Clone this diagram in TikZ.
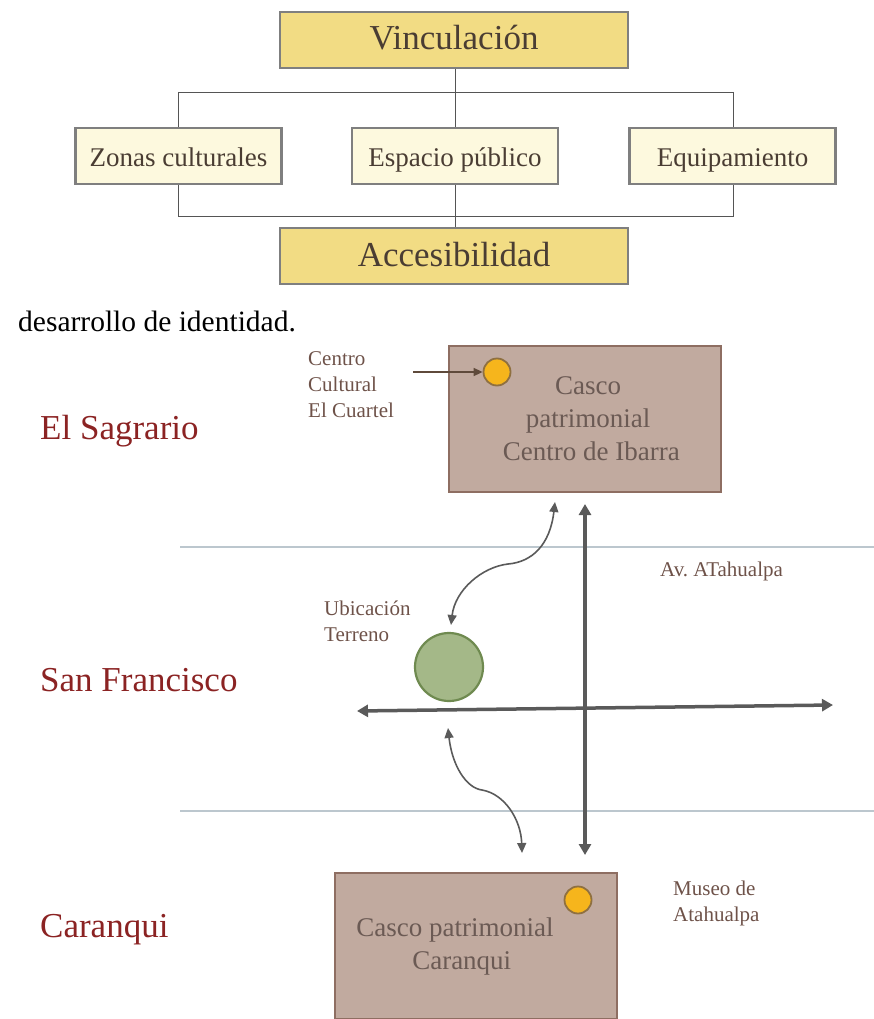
\documentclass[tikz,border=0pt]{standalone}
\usepackage{fontspec}
\setmainfont{Liberation Serif}
\usetikzlibrary{arrows.meta}
\definecolor{boxgray}{HTML}{7F7F7F}
\definecolor{yel}{HTML}{F2DC84}
\definecolor{cream}{HTML}{FDF9DE}
\definecolor{txtbrown}{HTML}{4A3D33}
\definecolor{linegray}{HTML}{555555}
\definecolor{casco}{HTML}{C1AA9F}
\definecolor{cascoborder}{HTML}{8E6E62}
\definecolor{casctxt}{HTML}{6B5A54}
\definecolor{labred}{HTML}{8B2323}
\definecolor{smalltxt}{HTML}{6E5249}
\definecolor{road}{HTML}{BCC7CE}
\definecolor{arrgray}{HTML}{5A5A5A}
\definecolor{gold}{HTML}{F6B51C}
\definecolor{goldborder}{HTML}{8F7040}
\definecolor{green1}{HTML}{A4B888}
\definecolor{green2}{HTML}{6F8A50}
\definecolor{brownarr}{HTML}{5F4A3B}
\frenchspacing
\begin{document}
\begin{tikzpicture}[x=1pt,y=-1pt,
  bigbox/.style={draw=boxgray,line width=2.5pt,fill=yel,minimum width=348pt,minimum height=56pt,inner sep=0pt,text=txtbrown,text height=24pt,text depth=4pt,font=\fontsize{35}{40}\selectfont},
  midbox/.style={draw=boxgray,line width=2.5pt,fill=cream,minimum width=206pt,minimum height=56pt,inner sep=0pt,text=txtbrown,text height=22pt,text depth=0pt,font=\fontsize{27}{32}\selectfont},
  conn/.style={draw=linegray,line width=0.9pt},
  region/.style={anchor=west,text=labred,font=\fontsize{35}{40}\selectfont,inner sep=0pt},
  small/.style={anchor=north west,align=left,text=smalltxt,font=\fontsize{21}{26}\selectfont,inner sep=0pt},
  cascobox/.style={draw=cascoborder,line width=2.5pt,fill=casco},
  cascotext/.style={align=center,text=casctxt,font=\fontsize{27}{33}\selectfont,inner sep=0pt},
  roadline/.style={draw=road,line width=2pt},
  bigarrow/.style={draw=arrgray,line width=3.5pt,{Triangle[width=12pt,length=11pt]}-{Triangle[width=12pt,length=11pt]}},
  curvearrow/.style={draw=arrgray,line width=1.6pt,{Triangle[width=9pt,length=10pt]}-{Triangle[width=9pt,length=10pt]}},
  dot/.style={circle,draw=goldborder,line width=1.8pt,fill=gold,minimum size=27pt,inner sep=0pt}
]
\useasboundingbox (0,0) rectangle (874,1019);

% --- top hierarchy ---
\node[bigbox] (vin) at (454,40) {Vinculación};
\node[midbox] (zon) at (178.5,156) {Zonas culturales};
\node[midbox] (esp) at (455,156) {Espacio público};
\node[midbox] (equ) at (732.5,156) {Equipamiento};
\node[bigbox] (acc) at (454,256) {Accesibilidad};

\coordinate (t1) at (178,92);
\coordinate (t2) at (733,92);
\coordinate (b1) at (178,216);
\coordinate (b2) at (733,216);
\draw[conn] (vin.south -| esp.north) -- (esp.north);
\draw[conn] (t1) -- (t2);
\draw[conn] (t1) -- (t1 |- zon.north);
\draw[conn] (t2) -- (t2 |- equ.north);
\draw[conn] (b1 |- zon.south) -- (b1) -- (b2) -- (b2 |- equ.south);
\draw[conn] (esp.south) -- (esp.south |- acc.north);

\node[anchor=base west,inner sep=0pt,font=\fontsize{29.5}{34}\selectfont] (des) at (18,331) {desarrollo de identidad.};

% --- map ---
\draw[roadline] (180,547) -- (874,547);
\draw[roadline] (180,811) -- (874,811);

\node[region] (sag) at (40,431) {El Sagrario};
\node[region] (sfr) at (40,680) {San Francisco};
\node[region] (car) at (40,930) {Caranqui};

\node[cascobox,minimum width=272pt,minimum height=146pt,inner sep=0pt] (ibarra) at (585,419) {};
\node[cascotext] (ibt) at (588,419) {Casco\\patrimonial\\\ Centro de Ibarra};
\node[dot] (cuartel) at (497,372) {};
\node[small] (cuartelt) at (308,351) {Centro\\Cultural\\El Cuartel};
\coordinate (ca) at (413,372);
\draw[draw=brownarr,line width=1.6pt,-{Triangle[width=8pt,length=9pt]}] (ca) -- (cuartel.west);

\node[cascobox,minimum width=282pt,minimum height=146pt,inner sep=0pt] (caranqui) at (476,946) {};
\node[cascotext] (cart) at (455,946) {Casco patrimonial\\\ \ Caranqui};
\node[dot] (museo) at (578,900) {};
\node[small] (museot) at (673,881) {Museo de\\Atahualpa};

\node[circle,draw=green2,line width=2.2pt,fill=green1,minimum size=68pt,inner sep=0pt] (terreno) at (449,667) {};
\node[small] (terrenot) at (324,601) {Ubicación\\Terreno};
\node[small] (avt) at (660,562) {Av. ATahualpa};

\coordinate (vtop) at (585,504);
\coordinate (vbot) at (585,855);
\draw[bigarrow] (vtop) -- (vbot);
\coordinate (hl) at (357,711);
\coordinate (hr) at (833,705);
\draw[bigarrow] (hl) -- (hr);

\coordinate (c1a) at (555,502);
\coordinate (c1b) at (451,625);
\draw[curvearrow] (c1a) .. controls (550,545) and (532,562) .. (508,564)
  .. controls (482,567) and (455,590) .. (c1b);
\coordinate (c2a) at (448,728);
\coordinate (c2b) at (522,853);
\draw[curvearrow] (c2a) .. controls (452,765) and (466,788) .. (482,790)
  .. controls (505,794) and (521,820) .. (c2b);
\end{tikzpicture}
\end{document}
